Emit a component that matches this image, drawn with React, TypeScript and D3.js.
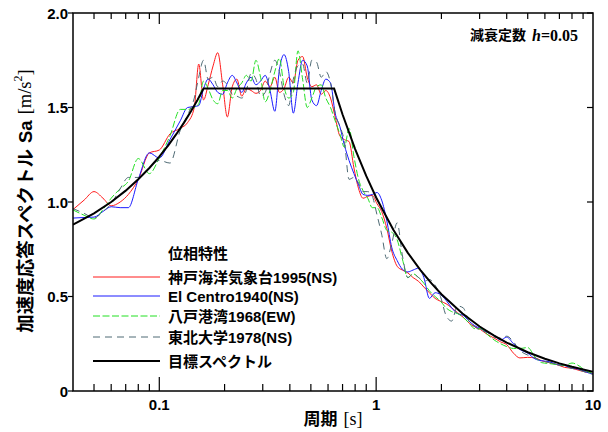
import * as d3 from 'd3'

// periods shared by the four phase-characteristic spectra [s]
const periods = [
  0.04, 0.045, 0.05, 0.055, 0.06, 0.066, 0.072, 0.08, 0.09, 0.1,
  0.112, 0.125, 0.135, 0.145, 0.152, 0.16, 0.168, 0.177, 0.186, 0.196,
  0.206, 0.217, 0.228, 0.24, 0.252, 0.265, 0.279, 0.293, 0.308, 0.324,
  0.341, 0.358, 0.376, 0.395, 0.415, 0.436, 0.458, 0.481, 0.505, 0.531,
  0.558, 0.586, 0.616, 0.647, 0.68, 0.714, 0.75, 0.79, 0.83, 0.87,
  0.915, 0.96, 1.01, 1.06, 1.12, 1.18, 1.25, 1.32, 1.4, 1.48,
  1.57, 1.66, 1.76, 1.87, 1.98, 2.1, 2.23, 2.37, 2.52, 2.68,
  2.85, 3.03, 3.25, 3.5, 3.75, 4.0, 4.3, 4.6, 5.0, 5.4,
  5.8, 6.3, 6.8, 7.4, 8.0, 8.7, 9.3, 10.0,
]

const kobeNS = [
  0.96, 1.01, 1.055, 1.02, 0.98, 1.0, 1.04, 1.12, 1.26, 1.275,
  1.36, 1.39, 1.42, 1.5, 1.73, 1.54, 1.62, 1.72, 1.79, 1.62,
  1.45, 1.61, 1.65, 1.56, 1.6, 1.59, 1.575, 1.59, 1.64, 1.61,
  1.66, 1.58, 1.6, 1.66, 1.63, 1.75, 1.77, 1.66, 1.61, 1.62,
  1.57, 1.59, 1.55, 1.45, 1.35, 1.33, 1.32, 1.18, 1.07, 1.02,
  1.03, 1.035, 0.99, 0.95, 0.86, 0.74, 0.66, 0.64, 0.625, 0.6,
  0.58, 0.55, 0.52, 0.49, 0.475, 0.462, 0.44, 0.415, 0.39, 0.36,
  0.34, 0.325, 0.3, 0.28, 0.26, 0.245, 0.2, 0.175, 0.178, 0.175,
  0.16, 0.15, 0.14, 0.125, 0.12, 0.108, 0.1, 0.092,
]

const elCentroNS = [
  0.915, 0.918, 0.92, 0.95, 0.975, 0.97, 0.97, 1.12, 1.26, 1.233,
  1.33, 1.43, 1.5, 1.505, 1.51, 1.6, 1.65, 1.62, 1.58, 1.57,
  1.63, 1.67, 1.63, 1.58, 1.63, 1.66, 1.62, 1.64, 1.67, 1.59,
  1.48, 1.7, 1.78, 1.69, 1.47, 1.63, 1.75, 1.72, 1.54, 1.51,
  1.59, 1.65, 1.63, 1.47, 1.4, 1.3, 1.22, 1.15, 1.09, 1.04,
  1.035, 1.04, 1.05, 1.01, 0.9, 0.76, 0.69, 0.645, 0.63, 0.64,
  0.65, 0.6, 0.49, 0.52, 0.51, 0.48, 0.44, 0.41, 0.4, 0.37,
  0.345, 0.33, 0.31, 0.295, 0.27, 0.285, 0.25, 0.22, 0.2, 0.17,
  0.16, 0.155, 0.14, 0.135, 0.12, 0.115, 0.1, 0.09,
]

const hachinoheEW = [
  0.958, 0.93, 0.91, 0.96, 1.02, 1.07, 1.11, 1.23, 1.15, 1.233,
  1.35, 1.49, 1.49, 1.5, 1.52, 1.64, 1.6, 1.54, 1.52, 1.59,
  1.59, 1.55, 1.6, 1.63, 1.67, 1.64, 1.75, 1.66, 1.53, 1.59,
  1.69, 1.76, 1.61, 1.55, 1.58, 1.8, 1.65, 1.5, 1.55, 1.61,
  1.62, 1.55, 1.5, 1.43, 1.36, 1.29, 1.39, 1.24, 1.12, 1.06,
  1.02, 0.97, 0.97, 0.92, 0.85, 0.84, 0.8, 0.7, 0.6, 0.62,
  0.6, 0.57, 0.53, 0.5, 0.475, 0.44, 0.42, 0.41, 0.39, 0.36,
  0.33, 0.33, 0.3, 0.27, 0.25, 0.235, 0.225, 0.225, 0.23, 0.18,
  0.15, 0.145, 0.14, 0.135, 0.148, 0.13, 0.105, 0.095,
]

const tohokuNS = [
  0.965, 0.94, 0.915, 0.95, 0.99, 1.07, 1.13, 1.13, 1.18, 1.22,
  1.206, 1.38, 1.46, 1.55, 1.66, 1.75, 1.65, 1.66, 1.61, 1.64,
  1.62, 1.57, 1.56, 1.55, 1.59, 1.68, 1.65, 1.56, 1.58, 1.68,
  1.75, 1.69, 1.57, 1.51, 1.65, 1.72, 1.73, 1.63, 1.75, 1.74,
  1.66, 1.69, 1.63, 1.47, 1.4, 1.32, 1.12, 1.13, 1.1, 1.055,
  1.055, 1.03, 0.93, 0.83, 0.7, 0.78, 0.89, 0.72, 0.6, 0.62,
  0.6, 0.58, 0.59, 0.56, 0.5, 0.4, 0.37, 0.45, 0.44, 0.37,
  0.34, 0.32, 0.31, 0.285, 0.28, 0.29, 0.26, 0.215, 0.19, 0.175,
  0.16, 0.15, 0.14, 0.13, 0.12, 0.11, 0.098, 0.088,
]

// target spectrum
const targetPeriods = [
  0.04, 0.05, 0.06, 0.07, 0.08, 0.09, 0.1, 0.11, 0.12, 0.13, 0.14, 0.15, 0.16,
  0.64, 0.7, 0.8, 0.9, 1.0, 1.2, 1.4, 1.6, 1.8, 2.0, 2.5, 3.0, 3.5, 4.0, 5.0, 6.0, 7.0, 8.0, 9.0, 10.0,
]
const targetSa = [
  0.88, 0.94, 1.0, 1.06, 1.12, 1.18, 1.24, 1.3, 1.36, 1.42, 1.48, 1.54, 1.6,
  1.6, 1.463, 1.28, 1.138, 1.024, 0.853, 0.731, 0.64, 0.569, 0.512, 0.41, 0.341, 0.293, 0.256, 0.205, 0.171, 0.146, 0.128, 0.114, 0.102,
]

const legendTitle = '位相特性'
const seriesNames = ['神戸海洋気象台1995(NS)', 'El Centro1940(NS)', '八戸港湾1968(EW)', '東北大学1978(NS)']
const targetName = '目標スペクトル'
const xTickValues = [0.1, 1, 10]
const yTickValues = [0, 0.5, 1.0, 1.5, 2.0]

const W = 608
const H = 432
const L = 73
const R = 593
const T = 13
const B = 391

const sans = "'Liberation Sans', Arial, 'Noto Sans CJK JP', sans-serif"
const serif = "'Liberation Serif', 'Times New Roman', serif"

export default function App() {
  const x = d3.scaleLog().domain([0.04, 10]).range([L, R])
  const y = d3.scaleLinear().domain([0, 2]).range([B, T])

  const line = d3.line<[number, number]>()
    .x(d => x(d[0]))
    .y(d => y(d[1]))
    .curve(d3.curveMonotoneX)

  const targetLine = d3.line<[number, number]>()
    .x(d => x(d[0]))
    .y(d => y(d[1]))

  const series = [
    { values: kobeNS, color: '#ff1a1a', dash: undefined },
    { values: elCentroNS, color: '#1a1aff', dash: undefined },
    { values: hachinoheEW, color: '#22e022', dash: '7 2.5' },
    { values: tohokuNS, color: '#4e6a74', dash: '7 5' },
  ]

  const allTicks = x.ticks()
  const isMajor = (t: number) => xTickValues.some(v => Math.abs(v - t) < 1e-9)
  const legendY = [277, 296, 316, 337]

  return (
    <svg width={W} height={H} style={{ position: 'absolute', left: 0, top: 0, background: '#fff' }}>
      <defs>
        <clipPath id="plot">
          <rect x={L} y={T} width={R - L} height={B - T} />
        </clipPath>
      </defs>
      <rect x={0} y={0} width={W} height={H} fill="#fff" />

      <g clipPath="url(#plot)" fill="none">
        {series.map((s, i) => (
          <path key={i}
            d={line(periods.map((p, j) => [p, s.values[j]] as [number, number])) ?? ''}
            stroke={s.color} strokeWidth={1} strokeDasharray={s.dash} />
        ))}
        <path d={targetLine(targetPeriods.map((p, j) => [p, targetSa[j]] as [number, number])) ?? ''}
          stroke="#000" strokeWidth={2} />
      </g>

      {/* frame */}
      <rect x={L} y={T} width={R - L} height={B - T} fill="none" stroke="#000" strokeWidth={1.5} />

      {/* x ticks bottom and top */}
      {allTicks.filter(t => t > 0.04 + 1e-9 && t < 10 - 1e-9).map((t, i) => {
        const major = isMajor(t)
        return (
          <g key={i} stroke="#000" strokeWidth={1.2}>
            <line x1={x(t)} x2={x(t)} y1={B} y2={B - (major ? 14 : 7)} />
            <line x1={x(t)} x2={x(t)} y1={T} y2={T + (major ? 11 : 6)} />
          </g>
        )
      })}
      {xTickValues.map(t => (
        <text key={t} x={x(t)} y={404} textAnchor="middle" dominantBaseline="central"
          fontFamily={sans} fontWeight="bold" fontSize={15}>{d3.format('~g')(t)}</text>
      ))}

      {/* y ticks */}
      {yTickValues.map(v => (
        <g key={v}>
          <line x1={L - 5} x2={L} y1={y(v)} y2={y(v)} stroke="#000" strokeWidth={1.2} />
          <line x1={R - 6} x2={R} y1={y(v)} y2={y(v)} stroke="#000" strokeWidth={1.2} />
          <text x={68} y={y(v)} textAnchor="end" dominantBaseline="central"
            fontFamily={sans} fontWeight="bold" fontSize={15}>{v === 0 ? '0' : v.toFixed(1)}</text>
        </g>
      ))}

      {/* axis titles */}
      <text x={333} y={419} textAnchor="middle" dominantBaseline="central" fontWeight="bold" fontSize={17} fontFamily={sans}>
        周期<tspan fontFamily={serif} fontWeight="normal" fontSize={18} dx={6}>[s]</tspan>
      </text>
      <text transform="translate(25,201) rotate(-90)" textAnchor="middle" dominantBaseline="central"
        fontWeight="bold" fontSize={18.5} fontFamily={sans}>
        加速度応答スペクトル<tspan dx={6}>Sa</tspan>
        <tspan fontFamily={serif} fontWeight="normal" dx={6}>[m/s</tspan>
        <tspan fontFamily={serif} fontWeight="normal" fontSize={12} dy={-7}>2</tspan>
        <tspan fontFamily={serif} fontWeight="normal" dy={7}>]</tspan>
      </text>

      {/* damping note */}
      <text x={578} y={35} textAnchor="end" dominantBaseline="central" fontWeight="bold" fontSize={14} fontFamily={sans}>
        減衰定数<tspan fontFamily={serif} fontStyle="italic" fontSize={16} dx={6}>h</tspan>
        <tspan fontFamily={serif} fontSize={16}>=0.05</tspan>
      </text>

      {/* legend */}
      <text x={168} y={253} dominantBaseline="central" fontWeight="bold" fontSize={15} fontFamily={sans}>{legendTitle}</text>
      {series.map((s, i) => (
        <g key={i}>
          <line x1={93} x2={160} y1={legendY[i]} y2={legendY[i]} stroke={s.color} strokeWidth={1} strokeDasharray={s.dash} />
          <text x={168} y={legendY[i]} dominantBaseline="central" fontWeight="bold" fontSize={15} fontFamily={sans}>{seriesNames[i]}</text>
        </g>
      ))}
      <line x1={93} x2={160} y1={361} y2={361} stroke="#000" strokeWidth={2} />
      <text x={168} y={361} dominantBaseline="central" fontWeight="bold" fontSize={15} fontFamily={sans}>{targetName}</text>
    </svg>
  )
}
